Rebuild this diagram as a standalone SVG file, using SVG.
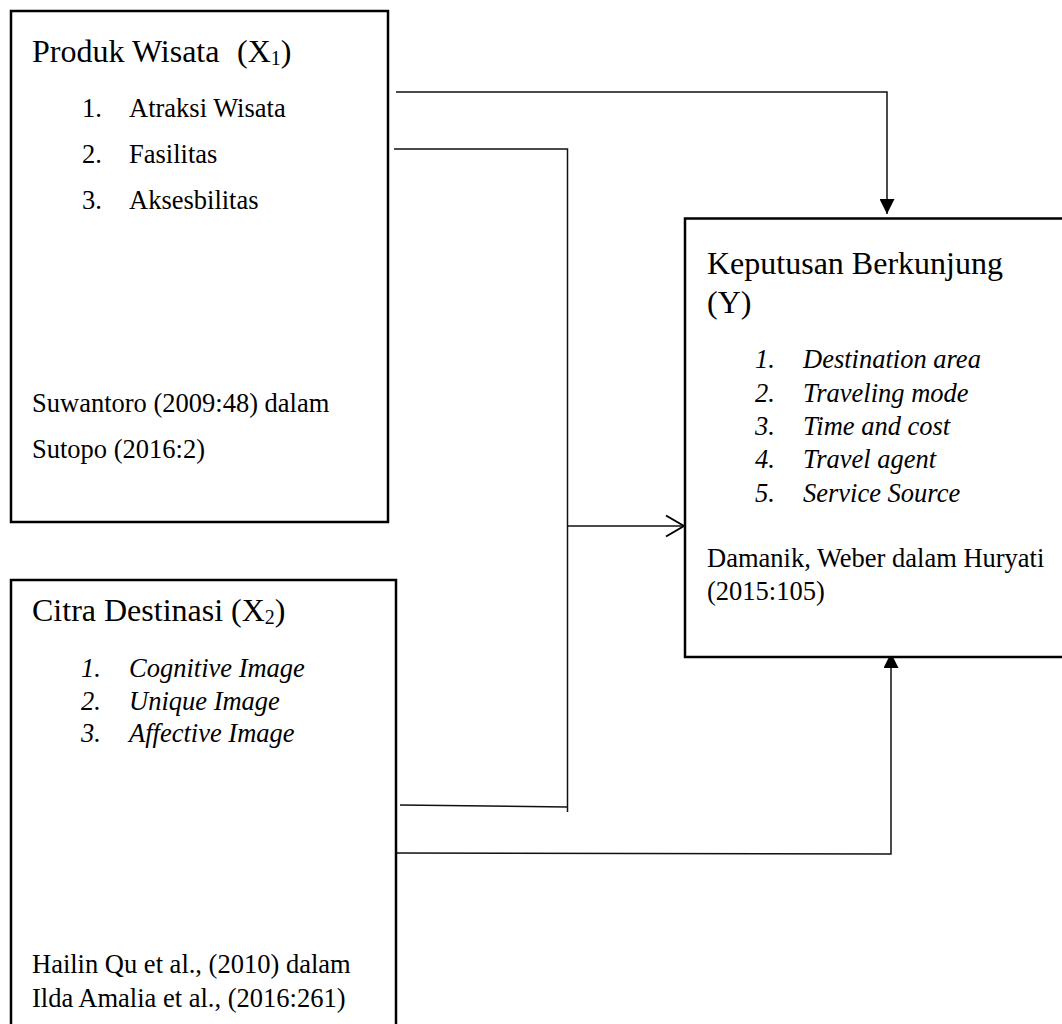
<svg xmlns="http://www.w3.org/2000/svg" width="1062" height="1024" viewBox="0 0 1062 1024">
<style>
.box{fill:#fff;stroke:#000;stroke-width:2.5}
.t{font-family:"Liberation Serif","Times New Roman",serif;fill:#000}
.h{font-size:32px}
.b{font-size:26.5px}
.i{font-style:italic}
.sub{font-size:20px}
.c{fill:none;stroke:#111;stroke-width:1.5}
</style>
<defs>
<marker id="tri" viewBox="0 0 10 10" refX="10" refY="5" markerWidth="15" markerHeight="15" markerUnits="userSpaceOnUse" orient="auto">
<path d="M0,0 L10,5 L0,10 Z" fill="#000"/>
</marker>
<marker id="open" viewBox="0 0 20 24" refX="19" refY="12" markerWidth="20" markerHeight="24" markerUnits="userSpaceOnUse" orient="auto">
<path d="M1,1.5 L19,12 L1,22.5" fill="none" stroke="#000" stroke-width="2"/>
</marker>
</defs>
<rect width="1062" height="1024" fill="#fff"/>

<g id="connectors">
<polyline class="c" points="396,92 887,92 887,214" marker-end="url(#tri)"/>
<polyline class="c" points="394,149 567.5,149 567.5,812"/>
<polyline class="c" points="400,805 567.5,807"/>
<line class="c" x1="568" y1="526" x2="684" y2="526" marker-end="url(#open)"/>
<polyline class="c" points="397,853 891,854 891,653" marker-end="url(#tri)"/>
</g>

<g id="node-x1">
<rect class="box" x="11" y="11" width="377" height="511"/>
<text class="t h" x="32" y="62">Produk Wisata</text>
<text class="t h" x="237" y="62">(X<tspan class="sub" dy="3">1</tspan><tspan dy="-3">)</tspan></text>
<text class="t b" x="82" y="117">1.</text><text class="t b" x="129" y="117">Atraksi Wisata</text>
<text class="t b" x="82" y="163">2.</text><text class="t b" x="129" y="163">Fasilitas</text>
<text class="t b" x="82" y="209">3.</text><text class="t b" x="129" y="209">Aksesbilitas</text>
<text class="t b" x="32" y="412">Suwantoro (2009:48) dalam</text>
<text class="t b" x="32" y="458">Sutopo (2016:2)</text>
</g>

<g id="node-x2">
<rect class="box" x="11" y="580" width="385" height="460"/>
<text class="t h" x="32" y="621">Citra Destinasi (X<tspan class="sub" dy="3">2</tspan><tspan dy="-3">)</tspan></text>
<text class="t b i" x="81" y="677">1.</text><text class="t b i" x="129" y="677">Cognitive Image</text>
<text class="t b i" x="81" y="710">2.</text><text class="t b i" x="129" y="710">Unique Image</text>
<text class="t b i" x="81" y="742">3.</text><text class="t b i" x="129" y="742">Affective Image</text>
<text class="t b" x="32" y="973">Hailin Qu et al., (2010) dalam</text>
<text class="t b" x="32" y="1007">Ilda Amalia et al., (2016:261)</text>
</g>

<g id="node-y">
<rect class="box" x="685" y="218.5" width="400" height="438.5"/>
<text class="t h" x="707" y="274">Keputusan Berkunjung</text>
<text class="t h" x="707" y="313">(Y)</text>
<text class="t b i" x="755" y="368">1.</text><text class="t b i" x="803" y="368">Destination area</text>
<text class="t b i" x="755" y="402">2.</text><text class="t b i" x="803" y="402">Traveling mode</text>
<text class="t b i" x="755" y="435">3.</text><text class="t b i" x="803" y="435">Time and cost</text>
<text class="t b i" x="755" y="468">4.</text><text class="t b i" x="803" y="468">Travel agent</text>
<text class="t b i" x="755" y="502">5.</text><text class="t b i" x="803" y="502">Service Source</text>
<text class="t b" x="707" y="567">Damanik, Weber dalam Huryati</text>
<text class="t b" x="707" y="600">(2015:105)</text>
</g>
</svg>
